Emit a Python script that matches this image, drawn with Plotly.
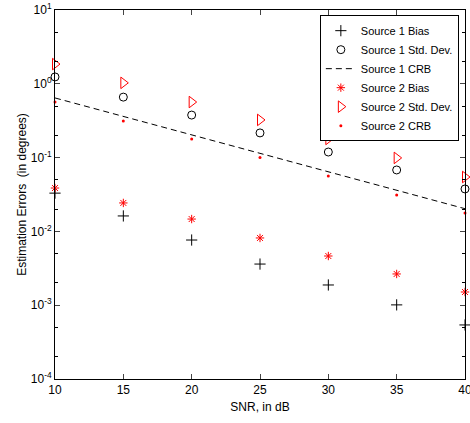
import plotly.graph_objects as go

snr = [10, 15, 20, 25, 30, 35, 40]
s1_bias = [0.033, 0.0162, 0.00764, 0.00361, 0.00188, 0.00101, 0.00054]
s1_std = [1.24, 0.66, 0.377, 0.216, 0.119, 0.068, 0.0376]
s1_crb = [0.643, 0.362, 0.203, 0.114, 0.0643, 0.0362, 0.0203]
s2_bias = [0.0387, 0.0243, 0.0147, 0.00815, 0.00464, 0.00265, 0.00151]
s2_std = [1.85, 1.03, 0.566, 0.324, 0.179, 0.099, 0.0546]
s2_crb = [0.566, 0.313, 0.179, 0.1, 0.0564, 0.0311, 0.0178]

ytick_vals = [1e-4, 1e-3, 1e-2, 1e-1, 1, 10]
ytick_text = ["10<sup>-4</sup>", "10<sup>-3</sup>", "10<sup>-2</sup>",
              "10<sup>-1</sup>", "10<sup>0</sup>", "10<sup>1</sup>"]
xtick_vals = [10, 15, 20, 25, 30, 35, 40]

fig = go.Figure()
fig.add_trace(go.Scatter(x=snr, y=s1_bias, mode="markers", name="Source 1 Bias",
                         marker=dict(symbol="cross-thin", size=8, line=dict(color="black", width=1)),
                         cliponaxis=False))
fig.add_trace(go.Scatter(x=snr, y=s1_std, mode="markers", name="Source 1 Std. Dev.",
                         marker=dict(symbol="circle-open", size=8, color="black", line=dict(width=1)),
                         cliponaxis=False))
fig.add_trace(go.Scatter(x=snr, y=s1_crb, mode="lines", name="Source 1 CRB",
                         line=dict(color="black", width=1, dash="6px,4px")))
fig.add_trace(go.Scatter(x=snr, y=s2_bias, mode="markers", name="Source 2 Bias",
                         marker=dict(symbol="asterisk-open", size=7, color="red", line=dict(color="red", width=1)),
                         cliponaxis=False))
fig.add_trace(go.Scatter(x=snr, y=s2_std, mode="markers", name="Source 2 Std. Dev.",
                         marker=dict(symbol="triangle-right-open", size=10, color="red", line=dict(width=1)),
                         cliponaxis=False))
fig.add_trace(go.Scatter(x=snr, y=s2_crb, mode="markers", name="Source 2 CRB",
                         marker=dict(symbol="circle", size=3, color="red"),
                         cliponaxis=False))

font = dict(family="Liberation Sans, Arial, sans-serif", size=12, color="black")
fig.update_layout(
    width=470, height=423,
    margin=dict(l=55, r=5, t=10, b=44, autoexpand=False),
    paper_bgcolor="white", plot_bgcolor="white",
    font=font,
    showlegend=True,
    legend=dict(x=0.985, y=0.986, xanchor="right", yanchor="top",
                bgcolor="white", bordercolor="black", borderwidth=1,
                font=dict(family="Liberation Sans, Arial, sans-serif", size=11),
                tracegroupgap=0),
    xaxis=dict(range=[10, 40], tickvals=xtick_vals, ticks="inside", ticklen=5,
               showline=True, linecolor="black", linewidth=1, mirror="ticks",
               showgrid=False, zeroline=False, automargin=False,
               ticklabeloverflow="allow",
               title=dict(text="SNR, in dB", font=dict(size=12), standoff=6)),
    yaxis=dict(type="log", range=[-4, 1], tickvals=ytick_vals, ticktext=ytick_text,
               ticks="inside", ticklen=5, showline=True, linecolor="black", linewidth=1,
               mirror="ticks", showgrid=False, zeroline=False, automargin=False,
               ticklabeloverflow="allow",
               minor=dict(ticks="inside", ticklen=3, tickcolor="black", showgrid=False),
               title=dict(text="Estimation Errors  (in degrees)", font=dict(size=12), standoff=1)),
)

fig.write_html("out.html", config={"displayModeBar": False},
               post_script="document.body.style.margin='0px';")
